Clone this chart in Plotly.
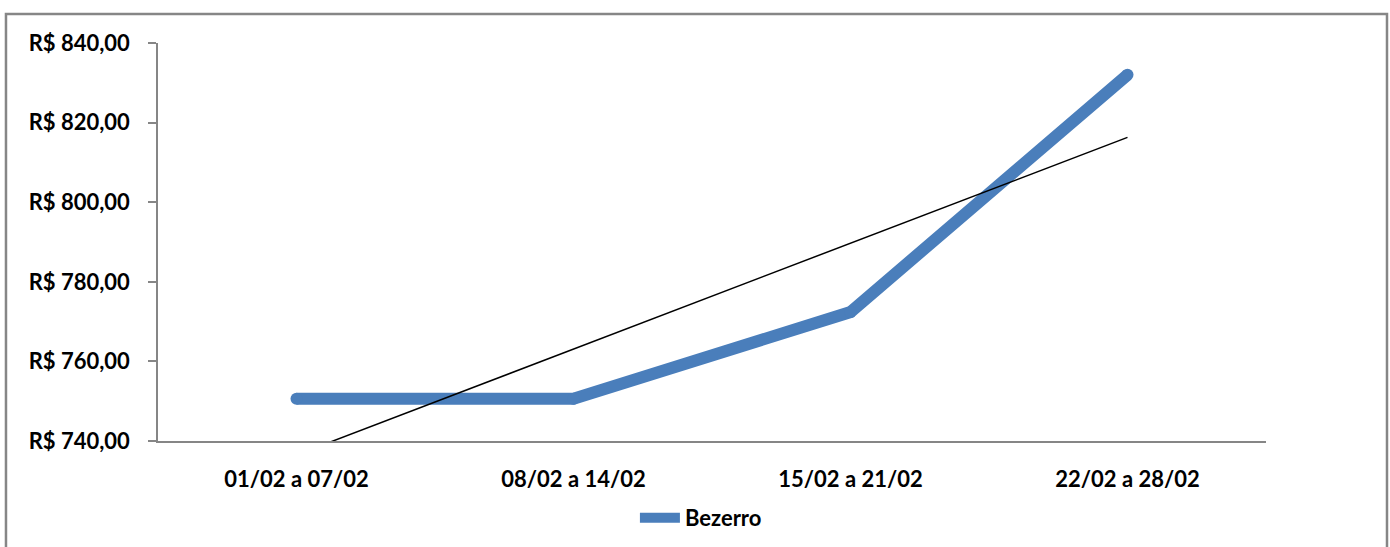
import numpy as np
import plotly.graph_objects as go

categories = ["01/02 a 07/02", "08/02 a 14/02", "15/02 a 21/02", "22/02 a 28/02"]
bezerro = [750.6, 750.6, 772.4, 832.0]
y_tick_values = [740, 760, 780, 800, 820, 840]
y_tick_labels = ["R$ 740,00", "R$ 760,00", "R$ 780,00", "R$ 800,00", "R$ 820,00", "R$ 840,00"]

# linear trend line (least squares on the series)
xi = np.arange(1, len(bezerro) + 1)
slope, intercept = np.polyfit(xi, bezerro, 1)
trend = list(slope * xi + intercept)

font_family = "Lato, 'Open Sans', sans-serif"
blue = "#4A7EBB"
gray = "#868686"
fsize = 22

fig = go.Figure()
fig.add_trace(go.Scatter(
    x=categories, y=bezerro, mode="lines", name="Bezerro",
    line=dict(color=blue, width=12), showlegend=True,
))
fig.add_trace(go.Scatter(
    x=categories, y=bezerro, mode="markers",
    marker=dict(color=blue, size=12, line=dict(width=0)),
    showlegend=False, hoverinfo="skip",
))
fig.add_trace(go.Scatter(
    x=categories, y=trend, mode="lines", name="Tendência",
    line=dict(color="black", width=1.5), showlegend=False,
))

fig.update_layout(
    width=1390, height=547,
    margin=dict(l=158, r=124, t=43, b=106, autoexpand=False),
    paper_bgcolor="white", plot_bgcolor="white",
    font=dict(family=font_family, size=fsize, color="black"),
    showlegend=True,
    legend=dict(orientation="h", x=0.49, xanchor="center",
                yref="container", y=1 - 518 / 547, yanchor="middle",
                font=dict(family=font_family, size=fsize, color="black", weight="bold"),
                itemwidth=40),
    xaxis=dict(
        type="category", range=[-0.5, 3.5],
        showline=True, linecolor=gray, linewidth=1.5,
        ticks="", showgrid=False, zeroline=False,
        tickfont=dict(family=font_family, size=fsize, color="black", weight="bold"),
        ticklabelstandoff=18,
    ),
    yaxis=dict(
        range=[740, 840], tickvals=y_tick_values, ticktext=y_tick_labels,
        showline=True, linecolor=gray, linewidth=1.5,
        ticks="outside", ticklen=8, tickcolor=gray, tickwidth=1.5,
        showgrid=False, zeroline=False,
        tickfont=dict(family=font_family, size=fsize, color="black", weight="bold"),
        ticklabelstandoff=14,
    ),
    shapes=[dict(
        type="rect", xref="paper", yref="paper",
        x0=-0.1372, x1=1.1092, y0=-0.35, y1=1.0729,
        line=dict(color=gray, width=2.5), fillcolor="rgba(0,0,0,0)", layer="below",
    )],
)

fig.write_html("out.html")
